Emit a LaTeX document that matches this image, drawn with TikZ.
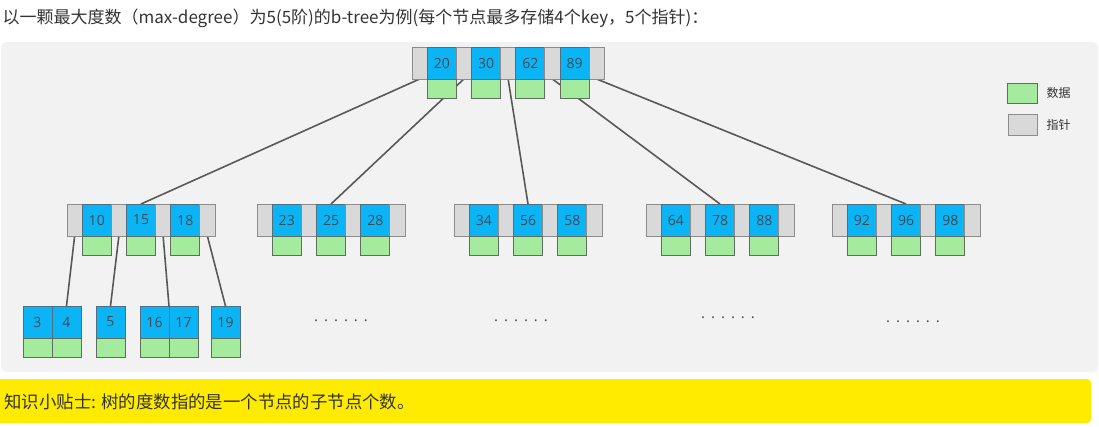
\documentclass[tikz,border=0pt]{standalone}
\usepackage{fontspec}
\setmainfont{Open Sans}
\newfontfamily\cjk{Noto Sans CJK SC}
\usetikzlibrary{positioning, backgrounds}

\definecolor{panelbg}{HTML}{F2F2F2}
\definecolor{ptrgrey}{HTML}{D9D9D9}
\definecolor{ptrline}{HTML}{8C8C8C}
\definecolor{keyblue}{HTML}{0BB4F5}
\definecolor{keyline}{HTML}{4F6F80}
\definecolor{datgreen}{HTML}{A5EB9E}
\definecolor{datline}{HTML}{5F6F5F}
\definecolor{linkgrey}{HTML}{595959}
\definecolor{celltext}{HTML}{3F4A52}
\definecolor{tipyellow}{HTML}{FFEB00}
\definecolor{darktext}{HTML}{333333}

\begin{document}
\begin{tikzpicture}[
        x=1pt, y=-1pt,
        font=\fontsize{14}{16}\selectfont,
        node distance=0pt,
        cell/.style={rectangle, inner sep=0pt, outer sep=0pt, line width=0.8pt, text=celltext},
        ptr/.style={cell, draw=ptrline, fill=ptrgrey, minimum width=15.25pt, minimum height=32pt},
        key/.style={cell, draw=keyline, fill=keyblue, minimum width=29pt, minimum height=32pt},
        dat/.style={cell, draw=datline, fill=datgreen, minimum width=29pt, minimum height=19pt},
        link/.style={draw=linkgrey, line width=1.6pt},
        dots/.style={font=\fontsize{15}{16}\selectfont\addfontfeature{LetterSpace=40}, text=celltext},
        legend/.style={font=\cjk\fontsize{12}{14}\selectfont, text=darktext},
    ]
    \useasboundingbox (0,0) rectangle (1099,426);

    \node[anchor=west, font=\cjk\fontsize{17}{18}\selectfont, text=darktext] (title) at (-1,18)
        {以一颗最大度数（max-degree）为5(5阶)的b-tree为例(每个节点最多存储4个key，5个指针)：};

    % root
    \node[ptr, anchor=north west] (r0) at (412,47) {};
    \foreach \k [count=\i, remember=\i as \j (initially 0)] in {20,30,62,89} {
        \node[key, right=of r\j] (k\k) {\k};
        \node[ptr, right=of k\k] (r\i) {};
        \node[dat, below=of k\k] (d\k) {};
    }

    % second level
    \foreach \n/\x/\keys in {a/67/{10,15,18}, b/257/{23,25,28}, c/454/{34,56,58},
                             d/646/{64,78,88}, e/832/{92,96,98}} {
        \node[ptr, anchor=north west] (\n0) at (\x,204) {};
        \foreach \k [count=\i, remember=\i as \j (initially 0)] in \keys {
            \node[key, right=of \n\j] (k\k) {\k};
            \node[ptr, right=of k\k] (\n\i) {};
            \node[dat, below=of k\k] (d\k) {};
        }
    }

    % leaves
    \foreach \k/\x in {3/23, 4/52, 5/96, 16/140, 17/169, 19/211} {
        \node[key, anchor=north west] (k\k) at (\x,306) {\k};
        \node[dat, below=of k\k] (d\k) {};
    }

    \node[dots] (more1) at (341,321) {......};
    \node[dots] (more2) at (521,321) {......};
    \node[dots] (more3) at (728,318) {......};
    \node[dots] (more4) at (913,322) {......};

    % legend
    \node[dat, minimum width=30pt, minimum height=20pt, anchor=north west] (legdat) at (1007,83) {};
    \node[legend, right=6pt of legdat] (legdattxt) {数据};
    \node[ptr, minimum width=29pt, minimum height=21pt, anchor=north west] (legptr) at (1008,114) {};
    \node[legend, right=6pt of legptr] (legptrtxt) {指针};

    \begin{scope}[on background layer]
        \fill[panelbg, rounded corners=5pt] (1,42) rectangle (1098,372);
        \draw[link] (r0.south) -- (k15.north);
        \draw[link] (r1.south) -- (k25.north);
        \draw[link] (r2.south) -- (k56.north);
        \draw[link] (r3.south) -- (k78.north);
        \draw[link] (r4.south) -- (k96.north);
        \draw[link] (a0.south) -- (k4.north);
        \draw[link] (a1.south) -- (k5.north);
        \draw[link] (a2.south) -- (k17.north west);
        \draw[link] (a3.south) -- (k19.north);
    \end{scope}

    % tip bar
    \fill[tipyellow, rounded corners=4pt] (-4,379) rectangle (1091,423);
    \node[anchor=west, font=\cjk\fontsize{17.4}{18}\selectfont, text=darktext] (tip) at (1,402)
        {知识小贴士: 树的度数指的是一个节点的子节点个数。};
\end{tikzpicture}
\end{document}
